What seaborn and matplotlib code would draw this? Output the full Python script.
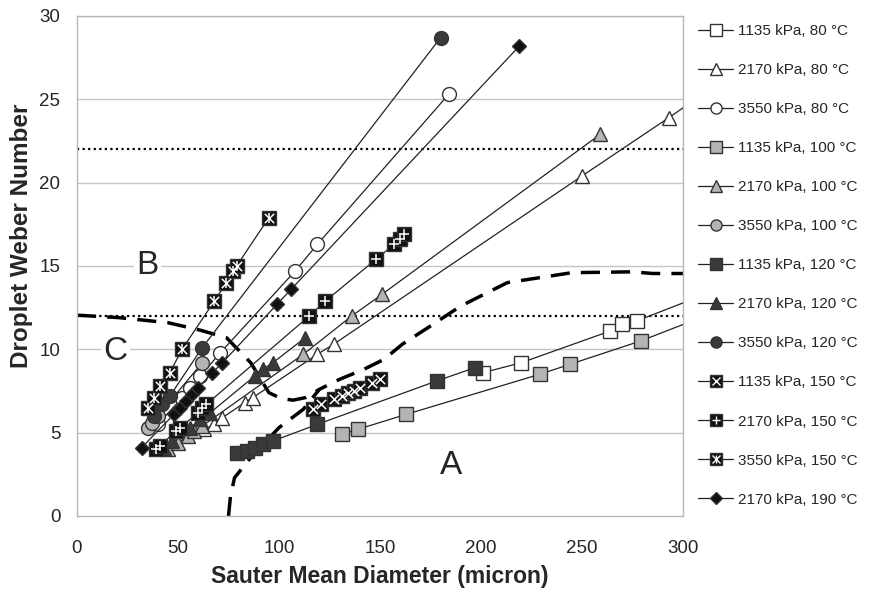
import matplotlib
matplotlib.use('Agg')
import matplotlib.pyplot as plt
import seaborn as sns
from matplotlib.lines import Line2D

# Sauter mean diameter (micron) and droplet Weber number for each run
d_1135_80 = [201, 220, 264, 270, 277, 330]
we_1135_80 = [8.6, 9.2, 11.1, 11.5, 11.7, 14.2]

d_2170_80 = [63, 68, 72, 83, 87, 119, 127, 250, 293, 330]
we_2170_80 = [5.2, 5.5, 5.9, 6.8, 7.1, 9.7, 10.3, 20.4, 23.9, 27.0]

d_3550_80 = [40, 52, 56, 61, 71, 108, 119, 184]
we_3550_80 = [5.5, 7.1, 7.7, 8.4, 9.8, 14.7, 16.3, 25.3]

d_1135_100 = [131, 139, 163, 229, 244, 279, 330]
we_1135_100 = [4.9, 5.2, 6.1, 8.5, 9.1, 10.5, 12.9]

d_2170_100 = [45, 50, 55, 58, 62, 112, 136, 151, 259]
we_2170_100 = [4.0, 4.4, 4.8, 5.1, 5.4, 9.7, 12.0, 13.3, 22.9]

d_3550_100 = [35, 37, 40, 62]
we_3550_100 = [5.3, 5.6, 6.0, 9.2]

d_1135_120 = [79, 84, 88, 92, 97, 119, 178, 197]
we_1135_120 = [3.8, 3.9, 4.1, 4.3, 4.5, 5.5, 8.1, 8.9]

d_2170_120 = [43, 47, 56, 61, 66, 88, 92, 97, 113]
we_2170_120 = [4.1, 4.5, 5.3, 5.8, 6.2, 8.4, 8.8, 9.2, 10.7]

d_3550_120 = [38, 42, 46, 62, 180]
we_3550_120 = [6.0, 6.7, 7.2, 10.1, 28.7]

d_1135_150 = [117, 121, 127, 131, 134, 137, 140, 146, 150]
we_1135_150 = [6.4, 6.7, 7.0, 7.2, 7.4, 7.5, 7.7, 8.0, 8.2]

d_2170_150 = [39, 41, 49, 51, 60, 62, 64, 115, 123, 148, 157, 160, 162]
we_2170_150 = [4.0, 4.2, 5.1, 5.3, 6.2, 6.5, 6.7, 12.0, 12.9, 15.4, 16.3, 16.6, 16.9]

d_3550_150 = [35, 38, 41, 46, 52, 68, 74, 77, 79, 95]
we_3550_150 = [6.5, 7.1, 7.8, 8.6, 10.0, 12.9, 14.0, 14.7, 15.0, 17.9]

d_2170_190 = [32, 48, 51, 54, 57, 60, 67, 72, 99, 106, 219]
we_2170_190 = [4.1, 6.1, 6.5, 6.9, 7.3, 7.7, 8.6, 9.2, 12.7, 13.6, 28.2]

# regime boundaries (dashed) and critical Weber numbers (dotted)
upper_bound_x = [0, 21, 45, 61, 74, 86, 95, 101, 107, 113, 120]
upper_bound_y = [12.05, 11.9, 11.6, 11.15, 10.7, 9.2, 7.4, 7.05, 6.95, 7.1, 7.6]
lower_bound_x = [75, 76, 78, 86, 100, 112, 120, 130, 142, 152, 161, 175, 190, 213, 245, 275, 285, 300]
lower_bound_y = [0, 1.2, 2.3, 3.5, 5.3, 6.4, 7.6, 8.2, 8.8, 9.4, 10.3, 11.4, 12.6, 14.0, 14.6, 14.65, 14.55, 14.55]
critical_we = [12, 22]

regime_labels = ['A', 'B', 'C']
regime_x = [185, 35, 19]
regime_y = [3.0, 15.0, 9.9]

labels = ['1135 kPa, 80 °C', '2170 kPa, 80 °C', '3550 kPa, 80 °C',
          '1135 kPa, 100 °C', '2170 kPa, 100 °C', '3550 kPa, 100 °C',
          '1135 kPa, 120 °C', '2170 kPa, 120 °C', '3550 kPa, 120 °C',
          '1135 kPa, 150 °C', '2170 kPa, 150 °C', '3550 kPa, 150 °C',
          '2170 kPa, 190 °C']
xs = [d_1135_80, d_2170_80, d_3550_80, d_1135_100, d_2170_100, d_3550_100,
      d_1135_120, d_2170_120, d_3550_120, d_1135_150, d_2170_150, d_3550_150,
      d_2170_190]
ys = [we_1135_80, we_2170_80, we_3550_80, we_1135_100, we_2170_100, we_3550_100,
      we_1135_120, we_2170_120, we_3550_120, we_1135_150, we_2170_150, we_3550_150,
      we_2170_190]

# marker styles: (marker, face colour, size, white overlay symbols)
styles = [('s', 'white', 10, []), ('^', 'white', 10.5, []), ('o', 'white', 10, []),
          ('s', '#b4b4b4', 10, []), ('^', '#b4b4b4', 10.5, []), ('o', '#b4b4b4', 10, []),
          ('s', '#3a3a3a', 10, []), ('^', '#3a3a3a', 10.5, []), ('o', '#3a3a3a', 10, []),
          ('s', '#111111', 10.5, ['x']), ('s', '#111111', 10.5, ['+']),
          ('s', '#111111', 10.5, ['x', '|']), ('D', '#111111', 7.5, [])]

sns.set_style('white')
plt.rcParams['font.family'] = ['Liberation Sans', 'DejaVu Sans']

fig = plt.figure(figsize=(8.74, 5.92), dpi=100)
ax = fig.add_axes([77 / 874, 76 / 592, 606 / 874, 500 / 592])

grid_c = '#c4c4c4'
for yv in range(5, 31, 5):
    ax.axhline(yv, color=grid_c, lw=1, zorder=0)
for yv in critical_we:
    ax.axhline(yv, color='black', lw=1.6, ls=(0, (1, 1.5)), zorder=1)

sns.lineplot(x=upper_bound_x, y=upper_bound_y, ax=ax, sort=False, estimator=None,
             color='black', lw=2.5, ls=(0, (5.5, 3.2)), zorder=2)
sns.lineplot(x=lower_bound_x, y=lower_bound_y, ax=ax, sort=False, estimator=None,
             color='black', lw=2.5, ls=(0, (5.5, 3.2)), zorder=2)

handles = []
for x, y, (mk, fc, ms, over) in zip(xs, ys, styles):
    sns.lineplot(x=x, y=y, ax=ax, sort=False, estimator=None, color='#222222', lw=0.9,
                 marker=mk, markersize=ms, markerfacecolor=fc,
                 markeredgecolor='#333333', markeredgewidth=1, zorder=3)
    h = [Line2D([], [], color='#222222', lw=0.9, marker=mk, markersize=ms * 0.8,
                markerfacecolor=fc, markeredgecolor='#333333', markeredgewidth=1)]
    for sym in over:
        sns.scatterplot(x=x, y=y, ax=ax, marker=sym, color='white', s=45,
                        linewidth=1.1, zorder=3)
        h.append(Line2D([], [], ls='none', marker=sym, color='white',
                        markersize=ms * 0.55, markeredgewidth=1))
    handles.append(tuple(h))

for t, xv, yv in zip(regime_labels, regime_x, regime_y):
    ax.text(xv, yv, t, fontsize=24, ha='center', va='center', zorder=2,
            bbox=dict(facecolor='white', edgecolor='none', pad=2))

ax.set_xlim(0, 300)
ax.set_ylim(0, 30)
ax.set_xticks(range(0, 301, 50))
ax.set_yticks(range(0, 31, 5))
for s in ax.spines.values():
    s.set_color('#b8b8b8')
    s.set_linewidth(1)
ax.tick_params(axis='both', direction='out', length=5, color='#b8b8b8', labelsize=13.5)
ax.tick_params(axis='x', pad=12)
ax.tick_params(axis='y', pad=7)
ax.set_xlabel('Sauter Mean Diameter (micron)', fontsize=16.5, fontweight='bold', labelpad=6)
ax.set_ylabel('Droplet Weber Number', fontsize=17.5, fontweight='bold')
ax.yaxis.set_label_coords(-0.072, 0.56)

fig.legend(handles, labels, loc='upper left', bbox_to_anchor=(698 / 874, 1 - 24 / 592),
           frameon=False, fontsize=11, labelspacing=1.64, handlelength=2.3,
           handletextpad=0.3, borderpad=0, borderaxespad=0)

fig.savefig('out.png', dpi=100)
